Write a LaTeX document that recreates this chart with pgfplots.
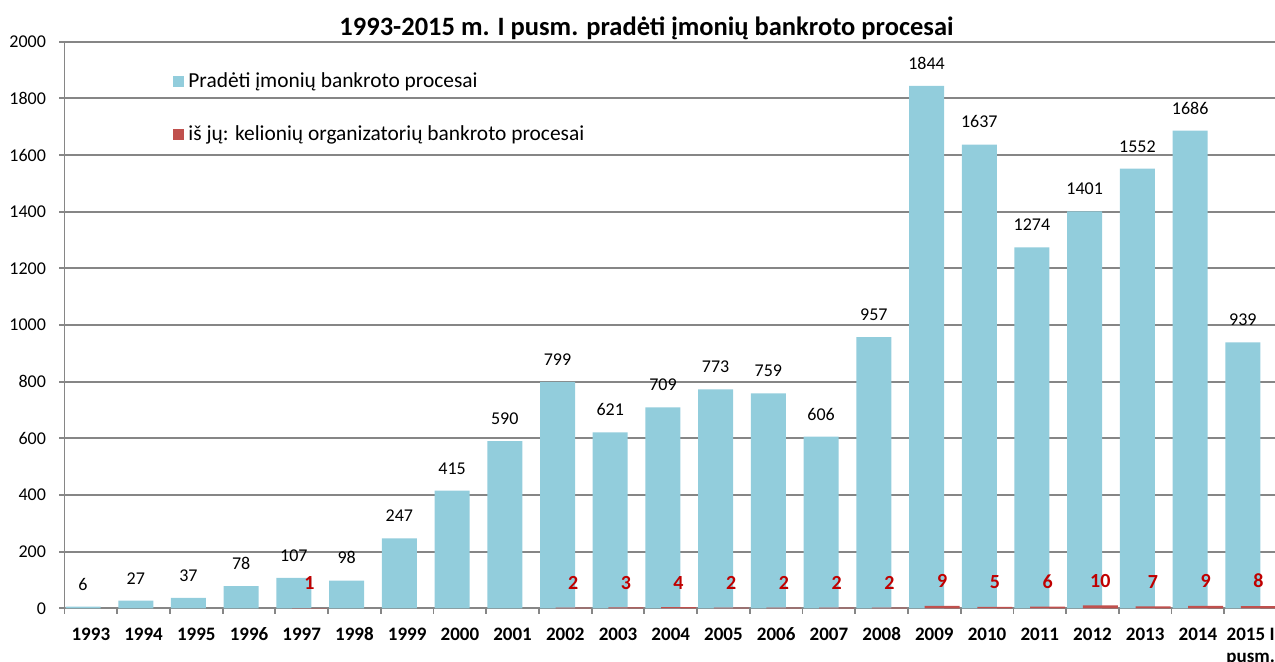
\documentclass[border=0pt]{standalone}
\usepackage{pgfplots}
\pgfplotsset{compat=1.18}
\usepackage{fontspec}
\setmainfont{Carlito}
\definecolor{barblue}{RGB}{146,205,220}
\definecolor{barred}{RGB}{192,80,77}
\definecolor{labred}{RGB}{192,0,0}
\definecolor{gridgray}{RGB}{134,134,134}
\begin{document}
\begin{tikzpicture}
\begin{axis}[
    at={(32.25pt,26.35pt)}, anchor=south west,
    scale only axis,
    width=606.25pt, height=283.3pt,
    xmin=-0.5, xmax=22.5,
    ymin=0, ymax=2000,
    axis x line*=bottom, axis y line*=left,
    axis line style={gridgray, line width=0.9pt},
    ytick={0,200,...,2000},
    ymajorgrids,
    grid style={gridgray, line width=0.9pt},
    tick style={gridgray, line width=0.9pt},
    major tick length=2.75pt,
    tick align=outside,
    % tick marks sit at the category borders, labels are moved to the centres
    xtick={-0.5,0.5,...,21.5},
    xticklabels={1993,1994,1995,1996,1997,1998,1999,2000,2001,2002,2003,2004,2005,2006,2007,2008,2009,2010,2011,2012,2013,2014,{2015 I\\pusm.}},
    xticklabel style={font=\bfseries\fontsize{9.5}{11}\selectfont, align=center, xshift=13.18pt, yshift=-3.5pt},
    yticklabel style={font=\fontsize{9}{11}\selectfont, xshift=-3pt},
    /pgf/number format/assume math mode=true,
    /pgf/number format/1000 sep={},
    title={1993-2015 m. I pusm. pradėti įmonių bankroto procesai},
    title style={at={(0.48,1)}, anchor=center, yshift=0.85pt, font=\bfseries\fontsize{13.25}{15}\selectfont},
    ybar, bar width=17.5pt,
    legend style={at={(0.0895,0.883)}, anchor=west, draw=none, fill=none,
        font=\fontsize{10.7}{12.5}\selectfont, row sep=13.5pt, inner sep=0pt},
    legend cell align=left,
    legend image code/.code={\fill[#1] (0pt,-2.75pt) rectangle (5.5pt,2.75pt);},
]
\addplot[fill=barblue, draw=none, bar shift=-3.9pt,
    nodes near coords,
    nodes near coords style={font=\fontsize{9}{11}\selectfont, black, yshift=4.7pt}]
coordinates {
    (0,6) (1,27) (2,37) (3,78) (4,107) (5,98) (6,247) (7,415) (8,590)
    (9,799) (10,621) (11,709) (12,773) (13,759) (14,606) (15,957)
    (16,1844) (17,1637) (18,1274) (19,1401) (20,1552) (21,1686) (22,939)
};
\addlegendentry{Pradėti įmonių bankroto procesai}
\addplot[fill=barred, draw=none, bar shift=3.9pt,
    nodes near coords,
    nodes near coords style={font=\bfseries\fontsize{10}{12}\selectfont, labred, yshift=5.5pt}]
coordinates {
    (4,1) (9,2) (10,3) (11,4) (12,2) (13,2) (14,2) (15,2)
    (16,9) (17,5) (18,6) (19,10) (20,7) (21,9) (22,8)
};
\addlegendentry{iš jų: kelionių organizatorių bankroto procesai}
\end{axis}
\pgfresetboundingbox
\useasboundingbox (0,0) rectangle (637.5pt,330.5pt);
\end{tikzpicture}
\end{document}
